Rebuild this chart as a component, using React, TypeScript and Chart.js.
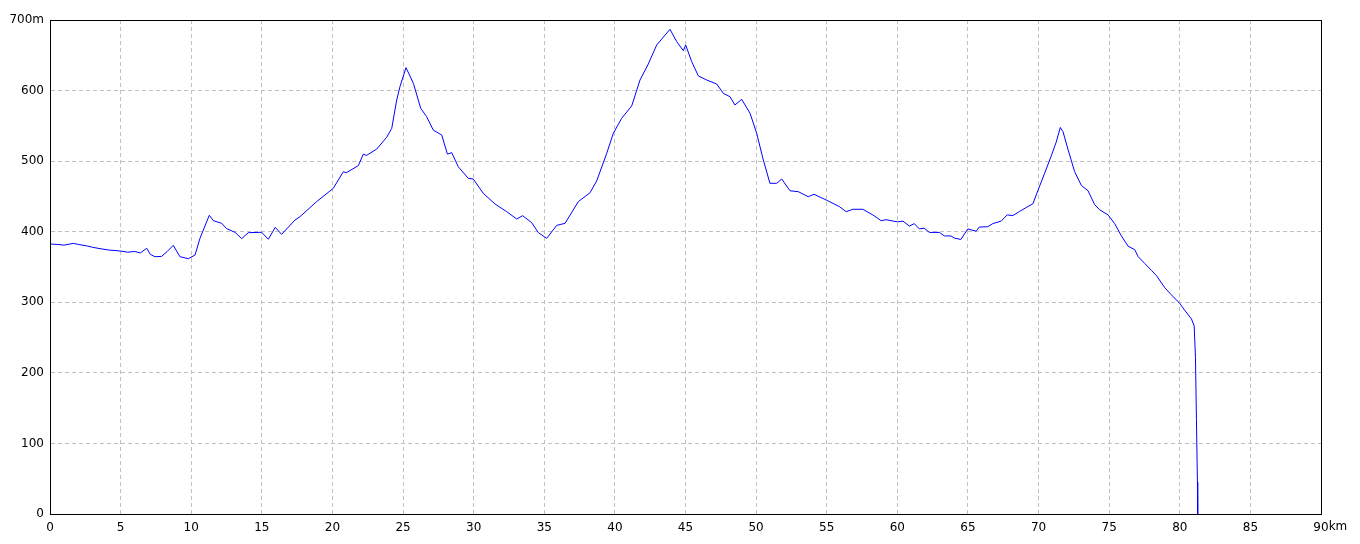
import React, { useEffect, useRef } from "react";
import { Chart, registerables } from "chart.js";

Chart.register(...registerables);

const distanceKm: number[] = [
  0, 0.5, 1.0, 1.65, 2.0, 2.6, 3.0, 3.54, 4.2, 4.96, 5.5, 6.0, 6.4, 6.85, 7.1, 7.43, 7.9, 8.3, 8.73, 9.2,
  9.8, 10.27, 10.62, 11.28, 11.57, 12.16, 12.51, 13.1, 13.57, 14.04, 14.99, 15.46, 15.95, 16.4, 17.35, 17.7,
  18.88, 20.06, 20.77, 20.98, 21.83, 22.19, 22.4, 23.13, 23.84, 24.2, 24.55, 24.78, 25.21, 25.73, 26.25,
  26.67, 27.14, 27.74, 28.14, 28.45, 28.91, 29.62, 29.97, 30.68, 31.51, 32.34, 33.05, 33.47, 34.11, 34.58,
  35.17, 35.88, 36.47, 37.41, 38.24, 38.71, 39.42, 39.89, 40.48, 41.19, 41.78, 42.37, 42.96, 43.9, 44.38,
  44.85, 45.01, 45.44, 45.91, 46.5, 47.21, 47.68, 48.15, 48.5, 48.98, 49.57, 50.04, 50.51, 50.98, 51.46,
  51.81, 52.4, 52.99, 53.69, 54.1, 54.96, 55.9, 56.38, 56.85, 57.56, 58.27, 58.86, 59.2, 60.0, 60.4, 60.85,
  61.2, 61.56, 61.9, 62.27, 62.98, 63.33, 63.8, 64.04, 64.5, 64.99, 65.58, 65.8, 66.4, 66.76, 67.35, 67.78,
  68.18, 68.65, 69.24, 69.6, 69.95, 70.43, 70.9, 71.25, 71.54, 71.73, 72.08, 72.55, 73.03, 73.5, 73.97,
  74.33, 74.92, 75.39, 75.86, 76.34, 76.81, 77.05, 77.52, 78.0, 78.35, 78.94, 79.4, 80.0, 80.35, 80.83,
  81.02, 81.11, 81.18, 81.25, 81.27,
];

const elevationM: number[] = [
  382.6, 382, 381, 383.5, 382, 380, 378, 376, 374, 372.7, 371, 372, 370, 376.5, 368, 364.6, 365, 372, 380.7, 364.6,
  361.8, 367, 390.6, 423.3, 415.6, 411.9, 404.3, 399.2, 390.2, 398.6, 399.2, 389.3, 406.2, 396.3, 416.6, 421.3,
  442.6, 461.5, 485, 483.6, 493.6, 510, 508, 517, 533.8, 546.5, 586.6, 605.5, 632.5, 610.3, 574.9,
  563, 544, 537, 510, 512, 492, 475.6, 474.7, 454.4, 439.3, 428.4, 418, 422.7, 412.8, 398.7,
  390.6, 409, 411.9, 442.6, 455.3, 471.9, 511, 539.5, 560.7, 578.2, 615, 637.7, 664.6, 686.8, 669.3,
  656.5, 664.6, 641, 620.7, 615, 609.3, 596, 591.3, 579.6, 587.6, 567.8, 539.5, 501.6, 468.6, 468.6,
  474.7, 458, 456.7, 449.6, 453, 445, 435.5, 428.4, 431.8, 431.8, 423.7, 415.6, 417, 414, 415, 408,
  411.5, 404, 405, 399, 399, 394, 394, 391, 389, 404, 400.7, 406.6, 407, 411.5, 415, 423.8,
  422.8, 428.7, 435.6, 439.5, 458.2, 482.8, 507.4, 527, 547.7, 541.8, 517, 485.3, 465.6, 458.2, 438.5,
  431, 423.8, 411.5, 394.3, 379.5, 374.6, 364.8, 355, 345, 337.8, 320.5, 310.7, 298.4, 288.6, 276.3,
  266.5, 222.2, 133.7, 45.2, 0,
];

const xMin = 0;
const xMax = 90;
const xStep = 5;
const yMin = 0;
const yMax = 700;
const yStep = 100;
const xUnit = "km";
const yUnit = "m";

const FONT = "DejaVu Sans";
const X_PAD = 7;

export default function App() {
  const canvasRef = useRef<HTMLCanvasElement | null>(null);

  useEffect(() => {
    document.body.style.margin = "0";
    const canvas = canvasRef.current;
    if (!canvas) return;

    const framePlugin = {
      id: "frameAndUnit",
      afterDraw(chart: any) {
        const { ctx, chartArea, scales } = chart;
        ctx.save();
        ctx.strokeStyle = "#000000";
        ctx.lineWidth = 1;
        ctx.setLineDash([]);
        ctx.strokeRect(
          Math.round(chartArea.left) + 0.5,
          Math.round(chartArea.top) + 0.5,
          Math.round(chartArea.right - chartArea.left),
          Math.round(chartArea.bottom - chartArea.top)
        );
        const xs = scales.x;
        ctx.font = `12px "${FONT}"`;
        ctx.fillStyle = "#000000";
        ctx.textBaseline = "top";
        ctx.textAlign = "left";
        const w = ctx.measureText(String(xMax)).width;
        const px = xs.getPixelForValue(xMax) + w / 2;
        ctx.fillText(xUnit, px, xs.top + X_PAD);
        ctx.restore();
      },
    };

    const chart = new Chart(canvas, {
      type: "line",
      data: {
        datasets: [
          {
            data: distanceKm.map((d, i) => ({ x: d, y: elevationM[i] })),
            borderColor: "#0000ff",
            borderWidth: 1,
            pointRadius: 0,
            tension: 0,
            fill: false,
          },
        ],
      },
      options: {
        animation: false,
        responsive: true,
        maintainAspectRatio: false,
        layout: { padding: { left: 0, top: 20, right: 39, bottom: 0 } },
        plugins: {
          legend: { display: false },
          tooltip: { enabled: false },
        },
        scales: {
          x: {
            type: "linear",
            min: xMin,
            max: xMax,
            afterFit(scale: any) {
              scale.height = 30;
            },
            ticks: {
              stepSize: xStep,
              autoSkip: false,
              maxRotation: 0,
              padding: X_PAD,
              color: "#000000",
              font: { family: FONT, size: 12 },
              callback: (v: any) => String(v),
            },
            grid: { color: "#c0c0c0", drawTicks: false, lineWidth: 1 },
            border: { display: true, color: "#000000", width: 1, dash: [4, 3] },
          },
          y: {
            type: "linear",
            min: yMin,
            max: yMax,
            afterFit(scale: any) {
              scale.width = 50;
            },
            ticks: {
              stepSize: yStep,
              padding: 6,
              color: "#000000",
              font: { family: FONT, size: 12 },
              callback: (v: any) => (v === yMax ? `${v}${yUnit}` : String(v)),
            },
            grid: { color: "#c0c0c0", drawTicks: false, lineWidth: 1 },
            border: { display: true, color: "#000000", width: 1, dash: [4, 3] },
          },
        },
      },
      plugins: [framePlugin],
    });

    return () => chart.destroy();
  }, []);

  return (
    <div style={{ width: 1360, height: 544, position: "relative", background: "#ffffff" }}>
      <canvas ref={canvasRef} />
    </div>
  );
}
